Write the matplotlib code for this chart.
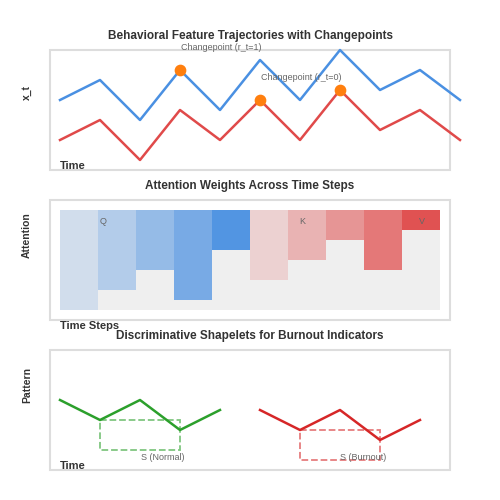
import matplotlib.pyplot as plt
from matplotlib.patches import Rectangle

plt.rcParams['font.family'] = ['Liberation Sans', 'DejaVu Sans']

# panel 1: trajectories
t = [60, 100, 140, 180, 220, 260, 300, 340, 380, 420, 460]
x_blue = [100, 80, 120, 70, 110, 60, 100, 50, 90, 70, 100]
x_red = [140, 120, 160, 110, 140, 100, 140, 90, 130, 110, 140]
cp_t = [180, 260, 340]
cp_y = [70, 100, 90]

# panel 2: attention bars (bottom edge of each bar)
bar_x = [60, 98, 136, 174, 212, 250, 288, 326, 364, 402]
bar_bottom = [310, 290, 270, 300, 250, 280, 260, 240, 270, 230]
bar_alpha = [0.2, 0.4, 0.6, 0.8, 1.0, 0.2, 0.4, 0.6, 0.8, 1.0]
qkv = ["Q", "K", "V"]

# panel 3: shapelets
s_norm_x = [60, 100, 140, 180, 220]
s_norm_y = [400, 420, 400, 430, 410]
s_burn_x = [260, 300, 340, 380, 420]
s_burn_y = [410, 430, 410, 440, 420]

BLUE = "#4a90e2"
RED = "#e04a4a"

fig = plt.figure(figsize=(5, 5), dpi=100)
ax = fig.add_axes([0, 0, 1, 1])
ax.set_xlim(0, 500)
ax.set_ylim(500, 0)
ax.axis("off")

def frame(y0):
    ax.add_patch(Rectangle((50, y0), 400, 120, fill=False, ec="#dddddd", lw=1.5))

def title(y, s):
    ax.text(250, y, s, ha="center", va="center", fontsize=8.5, fontweight="bold", color="#333333")

def ylab(y, s):
    ax.text(27, y, s, ha="center", va="center", rotation=90, fontsize=7.5, fontweight="bold", color="#333333")

# panel 1
title(36, "Behavioral Feature Trajectories with Changepoints")
frame(50)
ylab(92, "x_t")
ax.plot(t, x_blue, color=BLUE, lw=1.8)
ax.plot(t, x_red, color=RED, lw=1.8)
ax.scatter(cp_t, cp_y, s=55, color="#ff7f0e", zorder=5)
ax.text(221, 47, "Changepoint (r_t=1)", ha="center", va="center", fontsize=6.5, color="#666666")
ax.text(301, 77, "Changepoint (r_t=0)", ha="center", va="center", fontsize=6.5, color="#666666")
ax.text(60, 166, "Time", ha="left", va="center", fontsize=8, fontweight="bold", color="#333333")

# panel 2
title(186, "Attention Weights Across Time Steps")
frame(200)
ylab(235, "Attention")
ax.add_patch(Rectangle((60, 210), 380, 100, color="#efefef", lw=0))
for i, (bx, bb, a) in enumerate(zip(bar_x, bar_bottom, bar_alpha)):
    c = BLUE if i < 5 else RED
    ax.add_patch(Rectangle((bx, 210), 38, bb - 210, color=c, alpha=a * 0.9 if a < 1 else 0.95, lw=0))
for lab, lx in zip(qkv, [103, 302, 422]):
    ax.text(lx, 222, lab, ha="center", va="center", fontsize=6.5, color="#666666")
ax.text(60, 326, "Time Steps", ha="left", va="center", fontsize=8, fontweight="bold", color="#333333")

# panel 3
title(336, "Discriminative Shapelets for Burnout Indicators")
frame(350)
ylab(385, "Pattern")
ax.plot(s_norm_x, s_norm_y, color="#2ca02c", lw=1.8)
ax.plot(s_burn_x, s_burn_y, color="#d62728", lw=1.8)
ax.add_patch(Rectangle((100, 420), 80, 30, fill=False, ec="#2ca02c", ls="--", lw=1.3, alpha=0.6))
ax.add_patch(Rectangle((300, 430), 80, 30, fill=False, ec="#d62728", ls="--", lw=1.3, alpha=0.6))
ax.text(163, 457, "S (Normal)", ha="center", va="center", fontsize=6.5, color="#666666")
ax.text(363, 457, "S (Burnout)", ha="center", va="center", fontsize=6.5, color="#666666")
ax.text(60, 466, "Time", ha="left", va="center", fontsize=8, fontweight="bold", color="#333333")

fig.savefig("out.png", dpi=100)
